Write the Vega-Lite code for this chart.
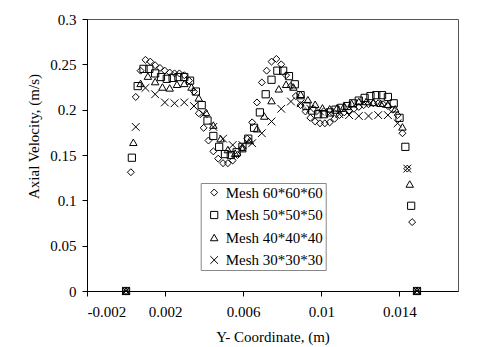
{
  "$schema": "https://vega.github.io/schema/vega-lite/v6.json",
  "width": 371,
  "height": 272,
  "autosize": "none",
  "padding": {"left": 87, "top": 19, "right": 22, "bottom": 56},
  "background": "white",
  "config": {
    "view": {"stroke": "#555", "strokeWidth": 1},
    "font": "Liberation Serif",
    "axis": {
      "grid": false,
      "domainColor": "black",
      "tickColor": "black",
      "labelColor": "black",
      "titleColor": "black",
      "labelFont": "Liberation Serif",
      "titleFont": "Liberation Serif",
      "labelFontSize": 15,
      "titleFontSize": 15,
      "titleFontWeight": "normal",
      "tickSize": 5
    },
    "legend": {
      "labelFont": "Liberation Serif",
      "labelFontSize": 15,
      "labelColor": "black",
      "strokeColor": "#888",
      "fillColor": "white",
      "padding": 2,
      "rowPadding": 6.5,
      "symbolOffset": 4,
      "symbolStrokeWidth": 1,
      "symbolStrokeColor": "black",
      "symbolFillColor": "transparent",
      "labelOffset": 4
    }
  },
  "data": {
    "values": [
      {"mesh": "Mesh 60*60*60", "x": 0, "y": 0},
      {"mesh": "Mesh 60*60*60", "x": 0.000248, "y": 0.131},
      {"mesh": "Mesh 60*60*60", "x": 0.000497, "y": 0.214},
      {"mesh": "Mesh 60*60*60", "x": 0.000745, "y": 0.243},
      {"mesh": "Mesh 60*60*60", "x": 0.000993, "y": 0.255},
      {"mesh": "Mesh 60*60*60", "x": 0.001242, "y": 0.253},
      {"mesh": "Mesh 60*60*60", "x": 0.00149, "y": 0.249},
      {"mesh": "Mesh 60*60*60", "x": 0.001738, "y": 0.246},
      {"mesh": "Mesh 60*60*60", "x": 0.001987, "y": 0.243},
      {"mesh": "Mesh 60*60*60", "x": 0.002235, "y": 0.241},
      {"mesh": "Mesh 60*60*60", "x": 0.002483, "y": 0.24},
      {"mesh": "Mesh 60*60*60", "x": 0.002732, "y": 0.24},
      {"mesh": "Mesh 60*60*60", "x": 0.00298, "y": 0.238},
      {"mesh": "Mesh 60*60*60", "x": 0.003228, "y": 0.232},
      {"mesh": "Mesh 60*60*60", "x": 0.003477, "y": 0.22},
      {"mesh": "Mesh 60*60*60", "x": 0.003725, "y": 0.196},
      {"mesh": "Mesh 60*60*60", "x": 0.003973, "y": 0.18},
      {"mesh": "Mesh 60*60*60", "x": 0.004222, "y": 0.166},
      {"mesh": "Mesh 60*60*60", "x": 0.00447, "y": 0.154},
      {"mesh": "Mesh 60*60*60", "x": 0.004718, "y": 0.146},
      {"mesh": "Mesh 60*60*60", "x": 0.004967, "y": 0.141},
      {"mesh": "Mesh 60*60*60", "x": 0.005215, "y": 0.141},
      {"mesh": "Mesh 60*60*60", "x": 0.005463, "y": 0.144},
      {"mesh": "Mesh 60*60*60", "x": 0.005712, "y": 0.15},
      {"mesh": "Mesh 60*60*60", "x": 0.00596, "y": 0.158},
      {"mesh": "Mesh 60*60*60", "x": 0.006208, "y": 0.168},
      {"mesh": "Mesh 60*60*60", "x": 0.006457, "y": 0.186},
      {"mesh": "Mesh 60*60*60", "x": 0.006705, "y": 0.208},
      {"mesh": "Mesh 60*60*60", "x": 0.006953, "y": 0.23},
      {"mesh": "Mesh 60*60*60", "x": 0.007202, "y": 0.243},
      {"mesh": "Mesh 60*60*60", "x": 0.00745, "y": 0.253},
      {"mesh": "Mesh 60*60*60", "x": 0.007698, "y": 0.256},
      {"mesh": "Mesh 60*60*60", "x": 0.007947, "y": 0.25},
      {"mesh": "Mesh 60*60*60", "x": 0.008195, "y": 0.238},
      {"mesh": "Mesh 60*60*60", "x": 0.008443, "y": 0.226},
      {"mesh": "Mesh 60*60*60", "x": 0.008692, "y": 0.215},
      {"mesh": "Mesh 60*60*60", "x": 0.00894, "y": 0.205},
      {"mesh": "Mesh 60*60*60", "x": 0.009188, "y": 0.198},
      {"mesh": "Mesh 60*60*60", "x": 0.009437, "y": 0.191},
      {"mesh": "Mesh 60*60*60", "x": 0.009685, "y": 0.187},
      {"mesh": "Mesh 60*60*60", "x": 0.009933, "y": 0.185},
      {"mesh": "Mesh 60*60*60", "x": 0.010182, "y": 0.185},
      {"mesh": "Mesh 60*60*60", "x": 0.01043, "y": 0.186},
      {"mesh": "Mesh 60*60*60", "x": 0.010678, "y": 0.19},
      {"mesh": "Mesh 60*60*60", "x": 0.010927, "y": 0.194},
      {"mesh": "Mesh 60*60*60", "x": 0.011175, "y": 0.197},
      {"mesh": "Mesh 60*60*60", "x": 0.011423, "y": 0.199},
      {"mesh": "Mesh 60*60*60", "x": 0.011672, "y": 0.201},
      {"mesh": "Mesh 60*60*60", "x": 0.01192, "y": 0.203},
      {"mesh": "Mesh 60*60*60", "x": 0.012168, "y": 0.205},
      {"mesh": "Mesh 60*60*60", "x": 0.012417, "y": 0.206},
      {"mesh": "Mesh 60*60*60", "x": 0.012665, "y": 0.207},
      {"mesh": "Mesh 60*60*60", "x": 0.012913, "y": 0.207},
      {"mesh": "Mesh 60*60*60", "x": 0.013162, "y": 0.206},
      {"mesh": "Mesh 60*60*60", "x": 0.01341, "y": 0.204},
      {"mesh": "Mesh 60*60*60", "x": 0.013658, "y": 0.2},
      {"mesh": "Mesh 60*60*60", "x": 0.013907, "y": 0.194},
      {"mesh": "Mesh 60*60*60", "x": 0.014155, "y": 0.174},
      {"mesh": "Mesh 60*60*60", "x": 0.014403, "y": 0.135},
      {"mesh": "Mesh 60*60*60", "x": 0.014652, "y": 0.076},
      {"mesh": "Mesh 60*60*60", "x": 0.0149, "y": 0},

      {"mesh": "Mesh 50*50*50", "x": 0, "y": 0},
      {"mesh": "Mesh 50*50*50", "x": 0.000298, "y": 0.147},
      {"mesh": "Mesh 50*50*50", "x": 0.000596, "y": 0.226},
      {"mesh": "Mesh 50*50*50", "x": 0.000894, "y": 0.245},
      {"mesh": "Mesh 50*50*50", "x": 0.001192, "y": 0.245},
      {"mesh": "Mesh 50*50*50", "x": 0.00149, "y": 0.24},
      {"mesh": "Mesh 50*50*50", "x": 0.001788, "y": 0.236},
      {"mesh": "Mesh 50*50*50", "x": 0.002086, "y": 0.234},
      {"mesh": "Mesh 50*50*50", "x": 0.002384, "y": 0.235},
      {"mesh": "Mesh 50*50*50", "x": 0.002682, "y": 0.236},
      {"mesh": "Mesh 50*50*50", "x": 0.00298, "y": 0.236},
      {"mesh": "Mesh 50*50*50", "x": 0.003278, "y": 0.232},
      {"mesh": "Mesh 50*50*50", "x": 0.003576, "y": 0.22},
      {"mesh": "Mesh 50*50*50", "x": 0.003874, "y": 0.205},
      {"mesh": "Mesh 50*50*50", "x": 0.004172, "y": 0.188},
      {"mesh": "Mesh 50*50*50", "x": 0.00447, "y": 0.171},
      {"mesh": "Mesh 50*50*50", "x": 0.004768, "y": 0.159},
      {"mesh": "Mesh 50*50*50", "x": 0.005066, "y": 0.151},
      {"mesh": "Mesh 50*50*50", "x": 0.005364, "y": 0.15},
      {"mesh": "Mesh 50*50*50", "x": 0.005662, "y": 0.153},
      {"mesh": "Mesh 50*50*50", "x": 0.00596, "y": 0.159},
      {"mesh": "Mesh 50*50*50", "x": 0.006258, "y": 0.168},
      {"mesh": "Mesh 50*50*50", "x": 0.006556, "y": 0.18},
      {"mesh": "Mesh 50*50*50", "x": 0.006854, "y": 0.197},
      {"mesh": "Mesh 50*50*50", "x": 0.007152, "y": 0.217},
      {"mesh": "Mesh 50*50*50", "x": 0.00745, "y": 0.233},
      {"mesh": "Mesh 50*50*50", "x": 0.007748, "y": 0.243},
      {"mesh": "Mesh 50*50*50", "x": 0.008046, "y": 0.243},
      {"mesh": "Mesh 50*50*50", "x": 0.008344, "y": 0.237},
      {"mesh": "Mesh 50*50*50", "x": 0.008642, "y": 0.228},
      {"mesh": "Mesh 50*50*50", "x": 0.00894, "y": 0.216},
      {"mesh": "Mesh 50*50*50", "x": 0.009238, "y": 0.204},
      {"mesh": "Mesh 50*50*50", "x": 0.009536, "y": 0.199},
      {"mesh": "Mesh 50*50*50", "x": 0.009834, "y": 0.195},
      {"mesh": "Mesh 50*50*50", "x": 0.010132, "y": 0.195},
      {"mesh": "Mesh 50*50*50", "x": 0.01043, "y": 0.197},
      {"mesh": "Mesh 50*50*50", "x": 0.010728, "y": 0.2},
      {"mesh": "Mesh 50*50*50", "x": 0.011026, "y": 0.202},
      {"mesh": "Mesh 50*50*50", "x": 0.011324, "y": 0.204},
      {"mesh": "Mesh 50*50*50", "x": 0.011622, "y": 0.207},
      {"mesh": "Mesh 50*50*50", "x": 0.01192, "y": 0.21},
      {"mesh": "Mesh 50*50*50", "x": 0.012218, "y": 0.213},
      {"mesh": "Mesh 50*50*50", "x": 0.012516, "y": 0.215},
      {"mesh": "Mesh 50*50*50", "x": 0.012814, "y": 0.216},
      {"mesh": "Mesh 50*50*50", "x": 0.013112, "y": 0.216},
      {"mesh": "Mesh 50*50*50", "x": 0.01341, "y": 0.214},
      {"mesh": "Mesh 50*50*50", "x": 0.013708, "y": 0.207},
      {"mesh": "Mesh 50*50*50", "x": 0.014006, "y": 0.191},
      {"mesh": "Mesh 50*50*50", "x": 0.014304, "y": 0.159},
      {"mesh": "Mesh 50*50*50", "x": 0.014602, "y": 0.094},
      {"mesh": "Mesh 50*50*50", "x": 0.0149, "y": 0},

      {"mesh": "Mesh 40*40*40", "x": 0, "y": 0},
      {"mesh": "Mesh 40*40*40", "x": 0.000373, "y": 0.164},
      {"mesh": "Mesh 40*40*40", "x": 0.000745, "y": 0.229},
      {"mesh": "Mesh 40*40*40", "x": 0.001118, "y": 0.237},
      {"mesh": "Mesh 40*40*40", "x": 0.00149, "y": 0.231},
      {"mesh": "Mesh 40*40*40", "x": 0.001863, "y": 0.225},
      {"mesh": "Mesh 40*40*40", "x": 0.002235, "y": 0.224},
      {"mesh": "Mesh 40*40*40", "x": 0.002608, "y": 0.228},
      {"mesh": "Mesh 40*40*40", "x": 0.00298, "y": 0.229},
      {"mesh": "Mesh 40*40*40", "x": 0.003353, "y": 0.225},
      {"mesh": "Mesh 40*40*40", "x": 0.003725, "y": 0.213},
      {"mesh": "Mesh 40*40*40", "x": 0.004098, "y": 0.197},
      {"mesh": "Mesh 40*40*40", "x": 0.00447, "y": 0.183},
      {"mesh": "Mesh 40*40*40", "x": 0.004843, "y": 0.168},
      {"mesh": "Mesh 40*40*40", "x": 0.005215, "y": 0.156},
      {"mesh": "Mesh 40*40*40", "x": 0.005588, "y": 0.152},
      {"mesh": "Mesh 40*40*40", "x": 0.00596, "y": 0.157},
      {"mesh": "Mesh 40*40*40", "x": 0.006333, "y": 0.166},
      {"mesh": "Mesh 40*40*40", "x": 0.006705, "y": 0.179},
      {"mesh": "Mesh 40*40*40", "x": 0.007078, "y": 0.193},
      {"mesh": "Mesh 40*40*40", "x": 0.00745, "y": 0.21},
      {"mesh": "Mesh 40*40*40", "x": 0.007823, "y": 0.223},
      {"mesh": "Mesh 40*40*40", "x": 0.008195, "y": 0.228},
      {"mesh": "Mesh 40*40*40", "x": 0.008568, "y": 0.225},
      {"mesh": "Mesh 40*40*40", "x": 0.00894, "y": 0.217},
      {"mesh": "Mesh 40*40*40", "x": 0.009313, "y": 0.211},
      {"mesh": "Mesh 40*40*40", "x": 0.009685, "y": 0.206},
      {"mesh": "Mesh 40*40*40", "x": 0.010058, "y": 0.202},
      {"mesh": "Mesh 40*40*40", "x": 0.01043, "y": 0.201},
      {"mesh": "Mesh 40*40*40", "x": 0.010803, "y": 0.202},
      {"mesh": "Mesh 40*40*40", "x": 0.011175, "y": 0.204},
      {"mesh": "Mesh 40*40*40", "x": 0.011548, "y": 0.207},
      {"mesh": "Mesh 40*40*40", "x": 0.01192, "y": 0.209},
      {"mesh": "Mesh 40*40*40", "x": 0.012293, "y": 0.209},
      {"mesh": "Mesh 40*40*40", "x": 0.012665, "y": 0.208},
      {"mesh": "Mesh 40*40*40", "x": 0.013038, "y": 0.207},
      {"mesh": "Mesh 40*40*40", "x": 0.01341, "y": 0.206},
      {"mesh": "Mesh 40*40*40", "x": 0.013783, "y": 0.201},
      {"mesh": "Mesh 40*40*40", "x": 0.014155, "y": 0.181},
      {"mesh": "Mesh 40*40*40", "x": 0.014528, "y": 0.118},
      {"mesh": "Mesh 40*40*40", "x": 0.0149, "y": 0},

      {"mesh": "Mesh 30*30*30", "x": 0, "y": 0},
      {"mesh": "Mesh 30*30*30", "x": 0.000497, "y": 0.181},
      {"mesh": "Mesh 30*30*30", "x": 0.000993, "y": 0.224},
      {"mesh": "Mesh 30*30*30", "x": 0.00149, "y": 0.217},
      {"mesh": "Mesh 30*30*30", "x": 0.001987, "y": 0.208},
      {"mesh": "Mesh 30*30*30", "x": 0.002483, "y": 0.207},
      {"mesh": "Mesh 30*30*30", "x": 0.00298, "y": 0.208},
      {"mesh": "Mesh 30*30*30", "x": 0.003477, "y": 0.204},
      {"mesh": "Mesh 30*30*30", "x": 0.003973, "y": 0.195},
      {"mesh": "Mesh 30*30*30", "x": 0.00447, "y": 0.181},
      {"mesh": "Mesh 30*30*30", "x": 0.004967, "y": 0.168},
      {"mesh": "Mesh 30*30*30", "x": 0.005463, "y": 0.161},
      {"mesh": "Mesh 30*30*30", "x": 0.00596, "y": 0.161},
      {"mesh": "Mesh 30*30*30", "x": 0.006457, "y": 0.163},
      {"mesh": "Mesh 30*30*30", "x": 0.006953, "y": 0.174},
      {"mesh": "Mesh 30*30*30", "x": 0.00745, "y": 0.187},
      {"mesh": "Mesh 30*30*30", "x": 0.007947, "y": 0.201},
      {"mesh": "Mesh 30*30*30", "x": 0.008443, "y": 0.209},
      {"mesh": "Mesh 30*30*30", "x": 0.00894, "y": 0.207},
      {"mesh": "Mesh 30*30*30", "x": 0.009437, "y": 0.201},
      {"mesh": "Mesh 30*30*30", "x": 0.009933, "y": 0.198},
      {"mesh": "Mesh 30*30*30", "x": 0.01043, "y": 0.196},
      {"mesh": "Mesh 30*30*30", "x": 0.010927, "y": 0.195},
      {"mesh": "Mesh 30*30*30", "x": 0.011423, "y": 0.194},
      {"mesh": "Mesh 30*30*30", "x": 0.01192, "y": 0.193},
      {"mesh": "Mesh 30*30*30", "x": 0.012417, "y": 0.193},
      {"mesh": "Mesh 30*30*30", "x": 0.012913, "y": 0.194},
      {"mesh": "Mesh 30*30*30", "x": 0.01341, "y": 0.194},
      {"mesh": "Mesh 30*30*30", "x": 0.013907, "y": 0.185},
      {"mesh": "Mesh 30*30*30", "x": 0.014403, "y": 0.135},
      {"mesh": "Mesh 30*30*30", "x": 0.0149, "y": 0}
    ]
  },
  "mark": {"type": "point", "filled": false, "strokeWidth": 1, "color": "black", "opacity": 1},
  "encoding": {
    "x": {
      "field": "x",
      "type": "quantitative",
      "scale": {"domain": [-0.002, 0.017], "nice": false, "zero": false},
      "axis": {
        "title": "Y- Coordinate, (m)",
        "values": [-0.002, 0.002, 0.006, 0.01, 0.014],
        "labelExpr": "replace(format(datum.value, '.3~f'), '\u2212', '-')",
        "labelPadding": 8,
        "titlePadding": 10
      }
    },
    "y": {
      "field": "y",
      "type": "quantitative",
      "scale": {"domain": [0, 0.3], "nice": false},
      "axis": {
        "title": "Axial Velocity,  (m/s)",
        "values": [0, 0.05, 0.1, 0.15, 0.2, 0.25, 0.3],
        "format": ".2~f",
        "labelPadding": 6,
        "titlePadding": 8,
        "titleY": 117
      }
    },
    "shape": {
      "field": "mesh",
      "type": "nominal",
      "scale": {
        "domain": ["Mesh 60*60*60", "Mesh 50*50*50", "Mesh 40*40*40", "Mesh 30*30*30"],
        "range": ["diamond", "square", "triangle-up", "M-1,-1L1,1M-1,1L1,-1"]
      },
      "legend": {
        "title": null,
        "orient": "none",
        "legendX": 113.7,
        "legendY": 164,
        "labelExpr": "datum.label + '\u00a0\u00a0\u00a0\u00a0\u00a0'"
      }
    },
    "size": {
      "field": "mesh",
      "type": "nominal",
      "scale": {
        "domain": ["Mesh 60*60*60", "Mesh 50*50*50", "Mesh 40*40*40", "Mesh 30*30*30"],
        "range": [48, 60, 52, 36]
      },
      "legend": {
        "title": null,
        "orient": "none",
        "legendX": 113.7,
        "legendY": 164,
        "labelExpr": "datum.label + '\u00a0\u00a0\u00a0\u00a0\u00a0'"
      }
    }
  }
}
